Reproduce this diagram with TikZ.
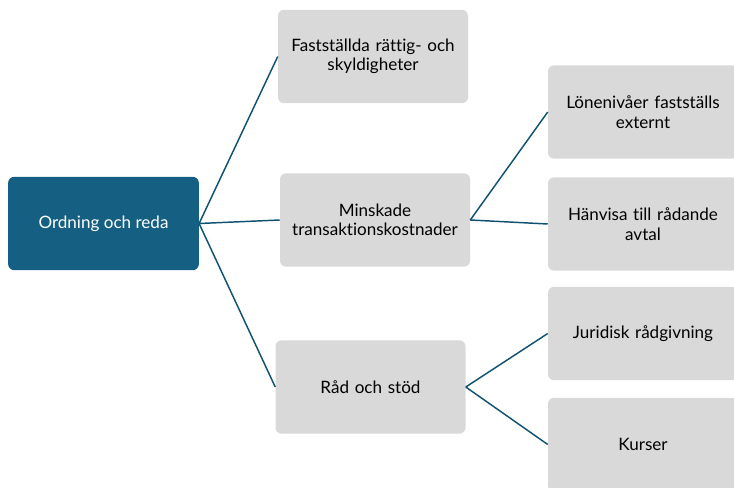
\documentclass[tikz,border=0pt]{standalone}
\usepackage{fontspec}
\setmainfont{Lato}[Ligatures=NoCommon]
\definecolor{rootblue}{HTML}{156082}
\definecolor{boxgray}{HTML}{D9D9D9}
\definecolor{linkblue}{HTML}{0F5272}
\tikzset{
  rootbox/.style={fill=rootblue,text=white,rounded corners=4.5pt,minimum width=143pt,minimum height=70pt,align=center,inner sep=0.75pt,font=\fontsize{12.8}{14.5}\selectfont},
  leafbox/.style={fill=boxgray,text=black,rounded corners=4.5pt,minimum width=142.5pt,minimum height=70pt,align=center,text width=135pt,inner sep=0.75pt,font=\fontsize{12.8}{14.5}\selectfont},
  link/.style={draw=linkblue,line width=1.1pt}
}
\begin{document}
\begin{tikzpicture}[x=0.75pt,y=0.75pt,yscale=-1,xscale=1]
\useasboundingbox (0,0) rectangle (734,488);
\clip (0,0) rectangle (734,488);

% Root
\node [rootbox] (root) at (103.5,223.5) {Ordning och reda};

% First level
\node [leafbox] (rights) at (373,56.5) {Fastställda rättig- och\\skyldigheter};
\node [leafbox] (costs) at (375,220) {Minskade\\transaktionskostnader};
\node [leafbox] (support) at (370.5,387) {Råd och stöd};

% Second level
\node [leafbox] (wages) at (643,112) {Lönenivåer fastställs\\externt};
\node [leafbox] (agree) at (643,224) {Hänvisa till rådande\\avtal};
\node [leafbox] (legal) at (643,333.5) {Juridisk rådgivning};
\node [leafbox] (course) at (643,444.5) {Kurser};

% Connectors
\draw [link] (root.east) -- (rights.west);
\draw [link] (root.east) -- (costs.west);
\draw [link] (root.east) -- (support.west);
\draw [link] (costs.east) -- (wages.west);
\draw [link] (costs.east) -- (agree.west);
\draw [link] (support.east) -- (legal.west);
\draw [link] (support.east) -- (course.west);

\end{tikzpicture}
\end{document}
